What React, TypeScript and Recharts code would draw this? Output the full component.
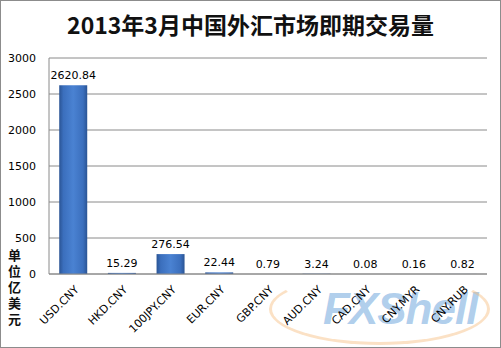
import { BarChart, Bar, XAxis, YAxis, CartesianGrid, LabelList } from "recharts";

const pairs = [
  "USD.CNY",
  "HKD.CNY",
  "100JPY.CNY",
  "EUR.CNY",
  "GBP.CNY",
  "AUD.CNY",
  "CAD.CNY",
  "CNY.MYR",
  "CNY.RUB",
];
const volumes = [2620.84, 15.29, 276.54, 22.44, 0.79, 3.24, 0.08, 0.16, 0.82];
const yTicks = [0, 500, 1000, 1500, 2000, 2500, 3000];
const title = "2013年3月中国外汇市场即期交易量";
const unitLabel = "单位亿美元";

const data = pairs.map((pair, i) => ({ pair, volume: volumes[i] }));

const FONT = "'DejaVu Sans', Verdana, sans-serif";

function PairTick({ x, y, payload }: any) {
  return (
    <text
      x={x + 4}
      y={y + 6}
      transform={`rotate(-45, ${x + 4}, ${y + 6})`}
      textAnchor="end"
      dominantBaseline="middle"
      fontSize={11}
      fontFamily={FONT}
      fill="#000"
    >
      {payload.value}
    </text>
  );
}

export default function App() {
  return (
    <div
      style={{
        position: "absolute",
        left: 0,
        top: 0,
        width: 501,
        height: 348,
        background: "#fff",
        boxSizing: "border-box",
        border: "1px solid #8c8c8c",
        overflow: "hidden",
      }}
    >
      <div
        style={{
          position: "absolute",
          left: 0,
          right: 0,
          top: 8,
          textAlign: "center",
          fontFamily: "'Noto Sans CJK SC', sans-serif",
          fontWeight: 700,
          fontSize: 23,
          lineHeight: "30px",
          color: "#111",
        }}
      >
        {title}
      </div>
      <div
        style={{
          position: "absolute",
          left: 6,
          top: 248,
          writingMode: "vertical-rl",
          textOrientation: "upright",
          fontFamily: "'Noto Sans CJK SC', sans-serif",
          fontWeight: 700,
          fontSize: 13,
          letterSpacing: 3,
          lineHeight: "15px",
          color: "#111",
        }}
      >
        {unitLabel}
      </div>
      <div
        style={{
          position: "absolute",
          left: 322,
          top: 283,
          fontFamily: "Arial, 'Liberation Sans', sans-serif",
          fontStyle: "italic",
          fontWeight: 700,
          fontSize: 44,
          letterSpacing: -1,
          color: "rgba(110,165,220,0.55)",
          pointerEvents: "none",
        }}
      >
        FXShell
      </div>
      <div
        style={{
          position: "absolute",
          left: 268,
          top: 272,
          width: 215,
          height: 66,
          borderRadius: "50%",
          border: "3px solid rgba(245,180,110,0.4)",
          borderTopColor: "transparent",
          pointerEvents: "none",
        }}
      />
      <BarChart
        width={499}
        height={346}
        data={data}
        margin={{ top: 57, right: 13, left: 0, bottom: 0 }}
        barCategoryGap="21%"
        style={{ position: "absolute", left: 0, top: 0 }}
      >
        <defs>
          <linearGradient id="barFill" x1="0" y1="0" x2="1" y2="0">
            <stop offset="0%" stopColor="#2a5494" />
            <stop offset="15%" stopColor="#3b6fbd" />
            <stop offset="50%" stopColor="#4a82d2" />
            <stop offset="85%" stopColor="#3b6fbd" />
            <stop offset="100%" stopColor="#2a5494" />
          </linearGradient>
        </defs>
        <CartesianGrid vertical={false} stroke="#8a8a8a" />
        <XAxis
          dataKey="pair"
          interval={0}
          tick={<PairTick />}
          tickLine={false}
          axisLine={{ stroke: "#8a8a8a" }}
          height={73}
        />
        <YAxis
          width={48}
          domain={[0, 3000]}
          ticks={yTicks}
          interval={0}
          tickLine={false}
          tickSize={0}
          tickMargin={13}
          axisLine={{ stroke: "#8a8a8a" }}
          tick={{ fontSize: 11, fontFamily: FONT, fill: "#000" }}
        />
        <Bar dataKey="volume" fill="url(#barFill)" isAnimationActive={false}>
          <LabelList
            dataKey="volume"
            position="top"
            offset={6}
            fontSize={11}
            fontFamily={FONT}
            fill="#000"
            formatter={(v: any) => Number(v).toFixed(2)}
          />
        </Bar>
      </BarChart>
    </div>
  );
}
